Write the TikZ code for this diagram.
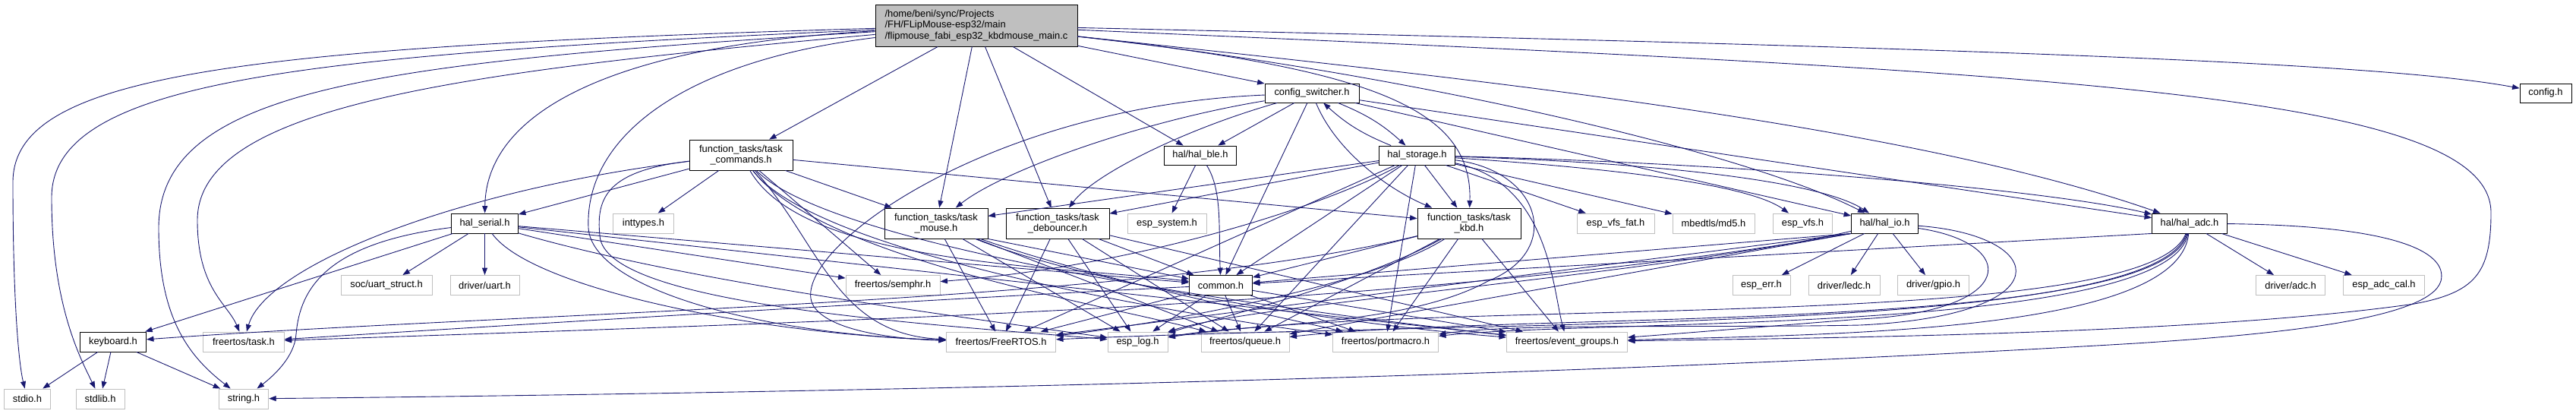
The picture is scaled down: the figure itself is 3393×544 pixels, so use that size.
\documentclass[tikz,border=0pt]{standalone}
\usepackage{fontspec}
\setmainfont{Liberation Sans}
\usetikzlibrary{arrows.meta}

\definecolor{edgeblue}{HTML}{191970}
\definecolor{greybox}{HTML}{BFBFBF}

\tikzset{
  hdr/.style={draw=black, line width=0.9pt, fill=white, inner sep=0pt,
    minimum height=26pt, font=\fontsize{12.9}{14.5}\selectfont},
  sys/.style={hdr, draw=greybox},
  dep/.style={color=edgeblue, line width=0.9pt, -{Triangle[length=9.5pt,width=7pt]}},
}

\begin{document}
\begin{tikzpicture}[x=1pt, y=-1pt]
    \useasboundingbox (0,0) rectangle (3393,544);
    % Files
    \node[hdr, fill=greybox, align=left, minimum width=266pt, minimum height=55pt] (root) at (1286,33.5)
      {/home/beni/sync/Projects\\/FH/FLipMouse-esp32/main\\/flipmouse\_fabi\_esp32\_kbdmouse\_main.c};
    \node[hdr, minimum width=124pt, minimum height=25pt] (cfgsw) at (1728,122.5) {config\_switcher.h};
    \node[hdr, minimum width=68pt, minimum height=25pt] (cfg) at (3353,122.5) {config.h};
    \node[hdr, align=center, minimum width=136pt, minimum height=40pt] (tcmd) at (976,204) {function\_tasks/task\\\_commands.h};
    \node[hdr, minimum width=95pt, minimum height=25pt] (halble) at (1581,204.5) {hal/hal\_ble.h};
    \node[hdr, minimum width=100pt, minimum height=25pt] (halsto) at (1866.5,204.5) {hal\_storage.h};
    % third row
    \node[hdr, minimum width=88pt] (halser) at (638.5,294) {hal\_serial.h};
    \node[sys, minimum width=79.5pt] (inttyp) at (847.5,294) {inttypes.h};
    \node[hdr, align=center, minimum width=136pt, minimum height=40pt] (tmouse) at (1233,294) {function\_tasks/task\\\_mouse.h};
    \node[hdr, align=center, minimum width=136pt, minimum height=40pt] (tdeb) at (1393,294) {function\_tasks/task\\\_debouncer.h};
    \node[sys, minimum width=104pt] (espsys) at (1537,294) {esp\_system.h};
    \node[hdr, align=center, minimum width=136pt, minimum height=40pt] (tkbd) at (1935,294) {function\_tasks/task\\\_kbd.h};
    \node[sys, minimum width=102pt] (vfsfat) at (2128,294) {esp\_vfs\_fat.h};
    \node[sys, minimum width=108pt] (md5) at (2257,294) {mbedtls/md5.h};
    \node[sys, minimum width=78.5pt] (espvfs) at (2374.5,294) {esp\_vfs.h};
    \node[hdr, minimum width=88pt] (halio) at (2482.5,294) {hal/hal\_io.h};
    \node[hdr, minimum width=99pt] (haladc) at (2884,294) {hal/hal\_adc.h};
    % fourth row
    \node[sys, minimum width=120pt] (uartst) at (509,375.5) {soc/uart\_struct.h};
    \node[sys, minimum width=91pt] (uart) at (638.5,375.5) {driver/uart.h};
    \node[sys, minimum width=124pt] (semphr) at (1176,375.5) {freertos/semphr.h};
    \node[hdr, minimum width=83pt] (common) at (1608,375.5) {common.h};
    \node[sys, minimum width=76pt] (esperr) at (2320,375.5) {esp\_err.h};
    \node[sys, minimum width=94pt] (ledc) at (2429,375.5) {driver/ledc.h};
    \node[sys, minimum width=94pt] (gpio) at (2546.5,375.5) {driver/gpio.h};
    \node[sys, minimum width=91pt] (adc) at (3017,375.5) {driver/adc.h};
    \node[sys, minimum width=106.5pt] (adccal) at (3140,375.5) {esp\_adc\_cal.h};
    % fifth row
    \node[hdr, minimum width=87pt] (kbd) at (149,450) {keyboard.h};
    \node[sys, minimum width=106.5pt] (ftask) at (321,450) {freertos/task.h};
    \node[sys, minimum width=144pt] (frtos) at (1318.5,450) {freertos/FreeRTOS.h};
    \node[sys, minimum width=79pt] (esplog) at (1498.5,450) {esp\_log.h};
    \node[sys, minimum width=116pt] (fqueue) at (1640,450) {freertos/queue.h};
    \node[sys, minimum width=139pt] (portm) at (1825,450) {freertos/portmacro.h};
    \node[sys, minimum width=159pt] (evgrp) at (2064,450) {freertos/event\_groups.h};
    % last row
    \node[sys, minimum width=61.5pt] (stdioh) at (36,525) {stdio.h};
    \node[sys, minimum width=64pt] (stdlibh) at (132,525) {stdlib.h};
    \node[sys, minimum width=65.5pt] (strh) at (321,525) {string.h};

    % Includes of the main file
    \path[dep] (root) edge (cfgsw) edge (tcmd) edge (halble) edge (tmouse) edge (tdeb);
    \draw[dep] (root) .. controls (300,62) and (17,100) .. (17,240) .. controls (17,400) and (25,480) .. (stdioh);
    \draw[dep] (root) .. controls (400,72) and (68,105) .. (68,260) .. controls (68,400) and (105,470) .. (stdlibh);
    \draw[dep] (root) .. controls (500,82) and (209,115) .. (209,300) .. controls (209,420) and (250,470) .. (strh);
    \draw[dep] (root) .. controls (600,95) and (260,140) .. (260,290) .. controls (260,380) and (300,400) .. (ftask);
    \draw[dep] (root) .. controls (800,60) and (640,150) .. (halser);
    \draw[dep] (root) .. controls (900,80) and (770,180) .. (775,300) .. controls (780,380) and (1000,440) .. (frtos);
    \draw[dep] (root) .. controls (1800,90) and (1940,140) .. (tkbd);
    \draw[dep] (root) .. controls (1850,95) and (2300,200) .. (halio);
    \draw[dep] (root) .. controls (1900,100) and (2500,160) .. (haladc);
    \draw[dep] (root) .. controls (2700,65) and (3150,85) .. (cfg);
    \draw[dep] (root) .. controls (2700,95) and (3281,120) .. (3281,280) .. controls (3281,360) and (3260,385) .. (3180,400)
      .. controls (2900,440) and (2400,445) .. (evgrp);

    % config_switcher.h
    \path[dep] (cfgsw) edge (halble) edge (common) edge (halio) edge (haladc) edge[bend left=10] (halsto);
    \draw[dep] (cfgsw) .. controls (1500,160) and (1320,225) .. (tmouse);
    \draw[dep] (cfgsw) .. controls (1560,170) and (1440,230) .. (tdeb);
    \draw[dep] (cfgsw) .. controls (1760,200) and (1830,250) .. (tkbd);
    \draw[dep] (cfgsw) .. controls (1300,140) and (1040,330) .. (1070,400) .. controls (1090,440) and (1200,447) .. (frtos);

    % task_commands.h
    \path[dep] (tcmd) edge (halser) edge (inttyp) edge (tmouse) edge (tkbd) edge (semphr);
    \draw[dep] (tcmd) .. controls (600,250) and (350,350) .. (ftask);
    \draw[dep] (tcmd) .. controls (1080,320) and (1100,440) .. (frtos);
    \draw[dep] (tcmd) .. controls (800,225) and (785,260) .. (790,310) .. controls (795,400) and (1200,425) .. (esplog);
    \draw[dep] (tcmd) .. controls (1080,340) and (1450,400) .. (fqueue);
    \draw[dep] (tcmd) .. controls (1060,350) and (1400,350) .. (common);
    \draw[dep] (tcmd) .. controls (1080,340) and (1600,420) .. (portm);
    \draw[dep] (tcmd) .. controls (1100,330) and (1700,410) .. (evgrp);

    % hal_ble.h
    \path[dep] (halble) edge (espsys);
    \draw[dep] (halble) .. controls (1610,250) and (1605,300) .. (common);

    % hal_storage.h
    \path[dep] (halsto) edge[bend left=10] (cfgsw) edge (tmouse) edge (tdeb) edge (tkbd) edge (vfsfat) edge (md5)
      edge (common) edge (frtos) edge (fqueue) edge (portm);
    \draw[dep] (halsto) .. controls (2100,220) and (2300,240) .. (espvfs);
    \draw[dep] (halsto) .. controls (2200,215) and (2400,240) .. (halio);
    \draw[dep] (halsto) .. controls (2300,215) and (2700,250) .. (haladc);
    \draw[dep] (halsto) .. controls (1750,270) and (1500,350) .. (semphr);
    \draw[dep] (halsto) .. controls (2030,225) and (2060,330) .. (1960,370) .. controls (1850,430) and (1650,425) .. (esplog);
    \draw[dep] (halsto) .. controls (2040,240) and (2045,380) .. (evgrp);

    % hal_serial.h
    \path[dep] (halser) edge (uartst) edge (uart) edge (kbd) edge (semphr) edge (common) edge (evgrp);
    \draw[dep] (halser) .. controls (430,320) and (395,380) .. (390,440) .. controls (388,470) and (360,495) .. (strh);
    \draw[dep] (halser) .. controls (700,380) and (1000,440) .. (frtos);
    \draw[dep] (halser) .. controls (900,370) and (1250,415) .. (esplog);

    % task_mouse.h, task_debouncer.h, task_kbd.h
    \path[dep] (tmouse) edge (frtos) edge (esplog) edge (fqueue);
    \path[dep] (tmouse.south east) edge (common);
    \draw[dep] (tmouse) .. controls (1450,370) and (1700,420) .. (portm);
    \draw[dep] (tmouse) .. controls (1450,380) and (1800,430) .. (evgrp);
    \path[dep] (tdeb) edge (common) edge (frtos) edge (esplog) edge (fqueue) edge (evgrp);
    \path[dep] (tkbd) edge (common) edge (fqueue) edge (portm) edge (evgrp);
    \draw[dep] (tkbd) .. controls (1500,400) and (700,410) .. (kbd);
    \draw[dep] (tkbd) .. controls (1800,380) and (1500,430) .. (frtos);
    \draw[dep] (tkbd) .. controls (1800,370) and (1600,420) .. (esplog);

    % hal_io.h
    \path[dep] (halio) edge (esperr) edge (ledc) edge (gpio);
    \path[dep] (halio.south west) edge (common) edge (frtos) edge (fqueue);
    \draw[dep] (halio.south west) .. controls (1900,400) and (1200,420) .. (ftask);
    \draw[dep] (halio) .. controls (2200,360) and (1650,400) .. (esplog);
    \draw[dep] (halio) .. controls (2660,320) and (2660,410) .. (2450,420) .. controls (2300,432) and (2200,440) .. (evgrp);
    \draw[dep] (halio) .. controls (2700,310) and (2720,415) .. (2450,428) .. controls (2250,432) and (2000,425) .. (portm);

    % hal_adc.h
    \path[dep] (haladc) edge (adc) edge (adccal);
    \path[dep] (haladc.south west) edge (common);
    \draw[dep] (haladc) .. controls (2830,440) and (1900,390) .. (esplog);
    \draw[dep] (haladc) .. controls (2840,440) and (2000,420) .. (frtos);
    \draw[dep] (haladc) .. controls (2850,440) and (2000,410) .. (fqueue);
    \draw[dep] (haladc) .. controls (2860,440) and (2100,420) .. (portm);
    \draw[dep] (haladc) .. controls (2870,440) and (2400,440) .. (evgrp);
    \draw[dep] (haladc) .. controls (3150,297) and (3225,330) .. (3215,370) .. controls (3200,420) and (3000,440) .. (2813,452)
      .. controls (2000,500) and (1000,518) .. (strh);

    % common.h and keyboard.h
    \path[dep] (common) edge (frtos) edge (esplog) edge (fqueue) edge (portm) edge (evgrp);
    \draw[dep] (common) .. controls (1300,390) and (800,420) .. (ftask);
    \path[dep] (kbd) edge (stdioh) edge (stdlibh) edge (strh);
\end{tikzpicture}
\end{document}
